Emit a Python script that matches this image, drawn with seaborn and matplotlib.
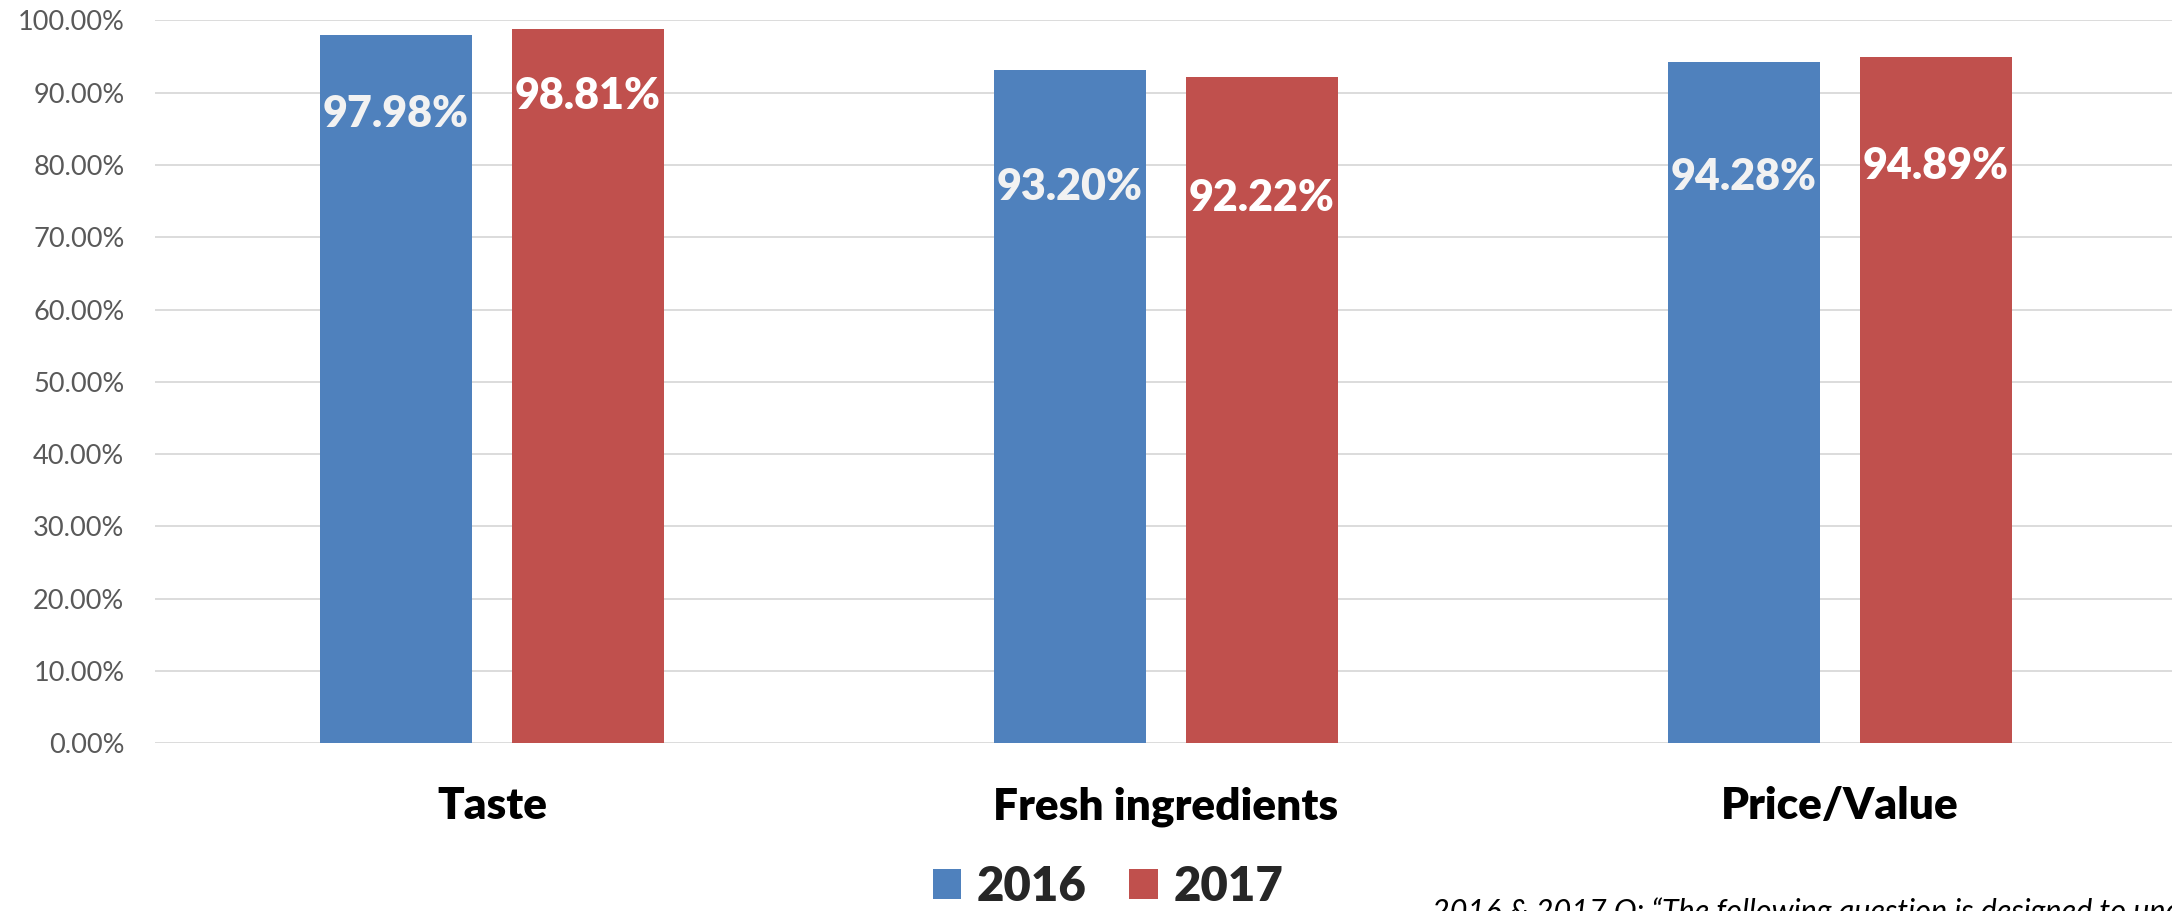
import matplotlib
matplotlib.use("Agg")
import matplotlib.pyplot as plt
import matplotlib.ticker as mticker
from matplotlib.patches import Patch
import seaborn as sns
import pandas as pd

categories = ["Taste", "Fresh ingredients", "Price/Value"]
years = ["2016", "2017"]
values_2016 = [97.98, 93.20, 94.28]
values_2017 = [98.81, 92.22, 94.89]
y_ticks = [0, 10, 20, 30, 40, 50, 60, 70, 80, 90, 100]
footnote = "2016 & 2017 Q: \u201cThe following question is designed to understand your experience\u201d"

# label vertical placement (in axis units), as in the reference
label_y_2016 = [87.1, 77.0, 78.3]
label_y_2017 = [89.5, 75.4, 79.9]

colors = ["#4F81BD", "#C0504D"]
label_colors = ["#F2F2F2", "#FFFFFF"]

df = pd.DataFrame({
    "category": categories * 2,
    "year": [years[0]] * 3 + [years[1]] * 3,
    "value": values_2016 + values_2017,
})

sns.set_theme(style="white")
plt.rcParams["font.family"] = ["Lato", "DejaVu Sans"]

fig = plt.figure(figsize=(21.72, 9.11), dpi=100)
ax = fig.add_axes([155 / 2172, 0.1844, 2022 / 2172, 0.7931])

sns.barplot(data=df, x="category", y="value", hue="year", order=categories,
            hue_order=years, palette=colors, saturation=1, width=0.57, gap=0.213,
            ax=ax, legend=False, linewidth=0)

ax.set_xlim(-0.5, 2.5)
ax.set_ylim(0, 100)
ax.set_yticks(y_ticks)
ax.yaxis.set_major_formatter(mticker.FuncFormatter(lambda v, p: f"{v:.2f}%"))
ax.grid(axis="y", color="#D9D9D9", linewidth=1.3)
ax.set_axisbelow(True)
for s in ax.spines.values():
    s.set_visible(False)
ax.tick_params(axis="y", length=0, pad=22, labelsize=19.5, labelcolor="#595959")
ax.tick_params(axis="x", length=0, pad=31, labelsize=31.8, labelcolor="#000000")
for t in ax.get_xticklabels():
    t.set_fontweight("heavy")
ax.set_xlabel("")
ax.set_ylabel("")

label_ys = [label_y_2016, label_y_2017]
vals = [values_2016, values_2017]
for hi, cont in enumerate(ax.containers):
    for ci, bar in enumerate(cont):
        xc = bar.get_x() + bar.get_width() / 2
        ax.text(xc, label_ys[hi][ci], f"{vals[hi][ci]:.2f}%", ha="center", va="center",
                fontsize=31, fontweight="heavy", color=label_colors[hi])

handles = [Patch(facecolor=c, edgecolor="none") for c in colors]
leg = fig.legend(handles, years, loc="center", bbox_to_anchor=(1108 / 2172, (911 - 887) / 911),
                 ncol=2, frameon=False, prop={"size": 34, "weight": "heavy"},
                 handlelength=0.6, handleheight=0.6, handletextpad=0.33,
                 columnspacing=0.9, borderpad=0)

fig.text(1432 / 2172, (911 - 897) / 911, footnote, ha="left", va="top",
         fontsize=22, fontstyle="italic", color="#000000")

fig.savefig("out.png", dpi=100, facecolor="white")
